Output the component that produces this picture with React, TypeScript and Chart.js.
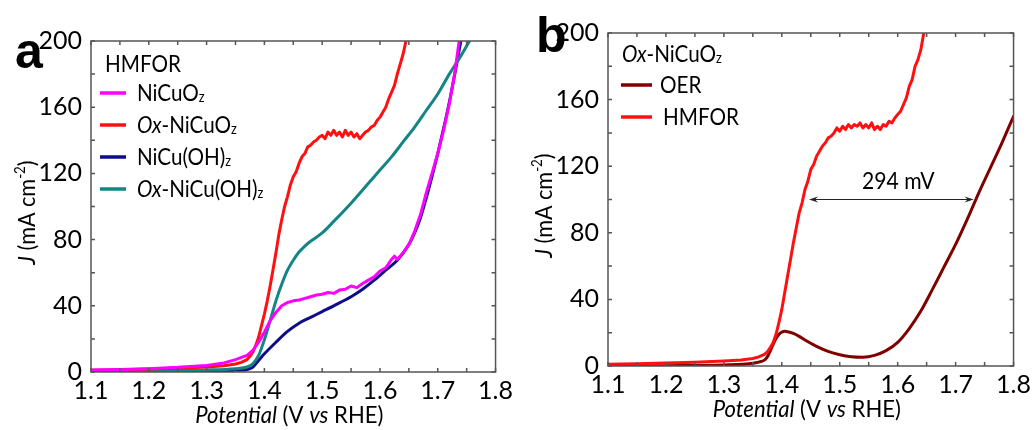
import React, { useEffect, useRef } from "react";
import { Chart, registerables } from "chart.js";
Chart.register(...registerables);

// ---------- Data (panel a: HMFOR) ----------
const V_A_MAG = [1.10,1.15,1.20,1.25,1.30,1.33,1.35,1.37,1.38,1.39,1.40,1.41,1.42,1.43,1.44,1.45,1.46,1.47,1.48,1.49,1.50,1.51,1.52,1.53,1.54,1.55,1.56,1.57,1.58,1.59,1.60,1.61,1.62,1.625,1.63,1.64,1.65,1.66,1.67,1.68,1.69,1.70,1.71,1.72,1.73,1.737];
const J_A_MAG = [1.2,1.5,2,2.8,4,5.5,7.5,10,13,18,24,31,36,40,42,43,43.5,44.5,45.5,46.5,47,48,47.5,49.5,50,52,51,53.5,55.5,57.5,61,63,68,70,68,72,77,85,95,108,120,132,146,162,182,200];

const V_A_RED = [1.10,1.15,1.20,1.25,1.30,1.33,1.35,1.36,1.37,1.375,1.38,1.385,1.39,1.395,1.400,1.405,1.410,1.415,1.420,1.425,1.430,1.435,1.440,1.445,1.450,1.455,1.460,1.465,1.470,1.475,1.480,1.485,1.490,1.495,1.500,1.505,1.510,1.515,1.520,1.525,1.530,1.535,1.540,1.545,1.550,1.555,1.560,1.565,1.570,1.575,1.580,1.585,1.590,1.595,1.600,1.605,1.610,1.615,1.620,1.625,1.630,1.635,1.640,1.645];
const J_A_RED = [1,1.3,1.8,2.3,3,3.8,4.8,5.8,7.5,9.5,12,16,21,28,35,43,52,62,72,83,92,100,106,113,118,121,126,130,132,136,137,139,140,142,143,141,145,143,146,143,145,142,146,143,145,142,144,141,143,145,146,148,149,152,154,157,160,165,169,173,180,186,192,200];

const V_A_NAVY = [1.10,1.20,1.30,1.35,1.37,1.375,1.38,1.39,1.40,1.42,1.44,1.46,1.48,1.50,1.52,1.55,1.57,1.59,1.61,1.63,1.65,1.66,1.67,1.68,1.69,1.70,1.71,1.72,1.73,1.74];
const J_A_NAVY = [0.3,0.4,0.6,1,1.5,2,3,7,11,18,24.5,29.5,33,36.5,40,45.5,50,55.5,61.5,67.5,77,84,93,105,118,132,147,163,181,200];

const V_A_TEAL = [1.10,1.20,1.30,1.35,1.37,1.38,1.39,1.40,1.41,1.42,1.43,1.44,1.45,1.46,1.47,1.48,1.50,1.52,1.55,1.58,1.60,1.62,1.64,1.66,1.68,1.70,1.72,1.74,1.755];
const J_A_TEAL = [0.5,0.7,1.2,2,3,5,10,19.5,31,43,53,61.5,67.5,72.5,76,79,84,91,102,114,122,130,139,148,158,168,180,191,200];

// ---------- Data (panel b: Ox-NiCuOz) ----------
const V_B_OER = [1.10,1.20,1.30,1.33,1.35,1.36,1.37,1.375,1.38,1.385,1.39,1.395,1.40,1.405,1.41,1.42,1.43,1.44,1.46,1.48,1.50,1.52,1.54,1.56,1.58,1.60,1.62,1.64,1.66,1.68,1.70,1.72,1.74,1.76,1.78,1.80];
const J_B_OER = [0,0.2,0.6,1,1.6,2.3,3.5,5.5,9,13,16.5,19,20.3,20.8,20.6,19.6,17.8,15.6,11.8,8.8,6.8,5.6,5.3,6.4,9.2,14.2,22.5,33,46,59.5,73,88,104,119,134,150];

const V_B_HMF = [1.10,1.15,1.20,1.25,1.30,1.33,1.35,1.36,1.37,1.375,1.38,1.385,1.39,1.395,1.400,1.405,1.410,1.415,1.420,1.425,1.430,1.435,1.440,1.445,1.450,1.455,1.460,1.465,1.470,1.475,1.480,1.485,1.490,1.495,1.500,1.505,1.510,1.515,1.520,1.525,1.530,1.535,1.540,1.545,1.550,1.555,1.560,1.565,1.570,1.575,1.580,1.585,1.590,1.595,1.600,1.605,1.610,1.615,1.620,1.625,1.630,1.635,1.640,1.645];
const J_B_HMF = [1,1.3,1.8,2.3,3,3.6,4.5,5.5,7,8.5,11,14,19,26,34,44,54,64,74,83,92,98,106,111,118,121,126,129,132,134,137,138,140,143,141,144,142,145,143,145,144,146,143,145,143,146,142,144,142,145,144,147,146,149,151,153,157,161,168,172,180,184,190,200];

const X_TICKS = [1.1,1.2,1.3,1.4,1.5,1.6,1.7,1.8];
const Y_TICKS = [0,40,80,120,160,200];
const X_MINOR = [1.1,1.15,1.2,1.25,1.3,1.35,1.4,1.45,1.5,1.55,1.6,1.65,1.7,1.75,1.8];
const Y_MINOR = [0,20,40,60,80,100,120,140,160,180,200];

const ARROW_V = [1.447, 1.731];
const ARROW_J = 100;
const ARROW_LABEL = "294 mV";

const FONT = "Lato";
const AXIS_COLOR = "#555";

type Part = { t: string; it?: boolean; sub?: boolean; sup?: boolean };

function richWidth(ctx: CanvasRenderingContext2D, parts: Part[], size: number, sx: number) {
  let w = 0;
  for (const p of parts) {
    const s = p.sub || p.sup ? size * 0.62 : size;
    ctx.font = `${p.it ? "italic " : ""}${s}px ${FONT}`;
    w += ctx.measureText(p.t).width;
  }
  return w * sx;
}
function drawRich(ctx: CanvasRenderingContext2D, parts: Part[], x: number, y: number, size: number, sx: number) {
  ctx.save();
  ctx.translate(x, y);
  ctx.scale(sx, 1);
  let cx = 0;
  for (const p of parts) {
    const s = p.sub || p.sup ? size * 0.62 : size;
    ctx.font = `${p.it ? "italic " : ""}${s}px ${FONT}`;
    const dy = p.sub ? 1 : p.sup ? -size * 0.42 : 0;
    ctx.fillText(p.t, cx, dy);
    cx += ctx.measureText(p.t).width;
  }
  ctx.restore();
}

const Y_TITLE: Part[] = [{ t: "J", it: true }, { t: " (mA cm" }, { t: "-2", sup: true }, { t: ")" }];
const X_TITLE: Part[] = [{ t: "Potential", it: true }, { t: " (V " }, { t: "vs", it: true }, { t: " RHE)" }];

function zip(v: number[], j: number[]) {
  return v.map((x, i) => ({ x, y: j[i] }));
}

function makeDecor(letter: string, letterPos: [number, number], header: Part[], entries: { color: string; label: Part[] }[], legendCfg: any, arrow: boolean) {
  return {
    id: "decor" + letter,
    afterDatasetsDraw(chart: any) {
      const ctx: CanvasRenderingContext2D = chart.ctx;
      const { left, right, top, bottom } = chart.chartArea;
      const xs = chart.scales.x;
      const ys = chart.scales.y;
      ctx.save();
      // box
      ctx.strokeStyle = AXIS_COLOR;
      ctx.lineWidth = 1.5;
      ctx.strokeRect(left, top, right - left, bottom - top);
      // inward ticks
      ctx.beginPath();
      for (const v of X_MINOR) {
        const px = xs.getPixelForValue(v);
        ctx.moveTo(px, bottom); ctx.lineTo(px, bottom - 4);
        ctx.moveTo(px, top); ctx.lineTo(px, top + 4);
      }
      for (const v of Y_MINOR) {
        const py = ys.getPixelForValue(v);
        ctx.moveTo(left, py); ctx.lineTo(left + 4, py);
        ctx.moveTo(right, py); ctx.lineTo(right - 4, py);
      }
      ctx.stroke();

      ctx.fillStyle = "#000";
      ctx.textBaseline = "alphabetic";
      // axis titles
      const xw = richWidth(ctx, X_TITLE, 24, 0.92);
      drawRich(ctx, X_TITLE, (left + right) / 2 - 4 - xw / 2, bottom + 51, 24, 0.92);
      ctx.save();
      ctx.translate(left - 56, (top + bottom) / 2 + 6);
      ctx.rotate(-Math.PI / 2);
      const yw = richWidth(ctx, Y_TITLE, 24, 0.9);
      drawRich(ctx, Y_TITLE, -yw / 2, 0, 24, 0.9);
      ctx.restore();

      // panel letter
      ctx.font = "bold 50px 'Liberation Sans', Arial";
      ctx.fillStyle = "#000";
      ctx.fillText(letter, letterPos[0], letterPos[1]);

      // legend
      ctx.fillStyle = "#000";
      drawRich(ctx, header, legendCfg.hx, legendCfg.hy, 24, 0.86);
      entries.forEach((e, i) => {
        const y = legendCfg.y0 + i * legendCfg.dy;
        ctx.strokeStyle = e.color;
        ctx.lineWidth = 3.5;
        ctx.beginPath();
        ctx.moveTo(legendCfg.lx0, y);
        ctx.lineTo(legendCfg.lx1, y);
        ctx.stroke();
        ctx.fillStyle = "#000";
        drawRich(ctx, e.label, legendCfg.tx + (legendCfg.tdx ? legendCfg.tdx[i] : 0), y + 8, 24, 0.86);
      });

      if (arrow) {
        const x0 = xs.getPixelForValue(ARROW_V[0]);
        const x1 = xs.getPixelForValue(ARROW_V[1]);
        const ay = ys.getPixelForValue(ARROW_J);
        ctx.strokeStyle = "#222";
        ctx.fillStyle = "#222";
        ctx.lineWidth = 1;
        ctx.beginPath();
        ctx.moveTo(x0 + 2, ay); ctx.lineTo(x1 - 2, ay);
        ctx.stroke();
        ctx.beginPath();
        ctx.moveTo(x0, ay); ctx.lineTo(x0 + 9, ay - 3); ctx.lineTo(x0 + 6, ay); ctx.lineTo(x0 + 9, ay + 3); ctx.closePath();
        ctx.moveTo(x1, ay); ctx.lineTo(x1 - 9, ay - 3); ctx.lineTo(x1 - 6, ay); ctx.lineTo(x1 - 9, ay + 3); ctx.closePath();
        ctx.fill();
        ctx.fillStyle = "#000";
        const lp: Part[] = [{ t: ARROW_LABEL }];
        const lw = richWidth(ctx, lp, 24, 0.88);
        drawRich(ctx, lp, (x0 + x1) / 2 + 7 - lw / 2, ay - 11, 24, 0.88);
      }
      ctx.restore();
    },
  };
}

function makeConfig(datasets: any[], pad: any, xH: number, yW: number, plugin: any) {
  return {
    type: "line",
    data: { datasets },
    options: {
      animation: false,
      responsive: false,
      maintainAspectRatio: false,
      devicePixelRatio: 1,
      layout: { padding: pad },
      plugins: { legend: { display: false }, tooltip: { enabled: false } },
      elements: { point: { radius: 0 }, line: { tension: 0, borderCapStyle: "round", borderJoinStyle: "round" } },
      scales: {
        x: {
          type: "linear",
          min: 1.1,
          max: 1.8,
          afterBuildTicks: (s: any) => { s.ticks = X_TICKS.map((value) => ({ value })); },
          afterFit: (s: any) => { s.height = xH; },
          ticks: { color: "#000", font: { family: FONT, size: 25 }, padding: 4, maxRotation: 0, autoSkip: false, callback: (v: any) => Number(v).toFixed(1) },
          grid: { display: false, drawTicks: false },
          border: { display: false },
        },
        y: {
          type: "linear",
          min: 0,
          max: 200,
          afterBuildTicks: (s: any) => { s.ticks = Y_TICKS.map((value) => ({ value })); },
          afterFit: (s: any) => { s.width = yW; },
          ticks: { color: "#000", font: { family: FONT, size: 25 }, padding: 9, autoSkip: false },
          grid: { display: false, drawTicks: false },
          border: { display: false },
        },
      },
    },
    plugins: [plugin],
  };
}

export default function App() {
  const refA = useRef<HTMLCanvasElement>(null);
  const refB = useRef<HTMLCanvasElement>(null);
  useEffect(() => {
    const ds = (v: number[], j: number[], c: string, smooth: boolean) => ({
      data: zip(v, j), borderColor: c, borderWidth: 3, pointRadius: 0, fill: false,
      cubicInterpolationMode: smooth ? "monotone" : "default",
    });
    const legendA = { hx: 105, hy: 72, y0: 93, dy: 32, lx0: 100, lx1: 126, tx: 137 };
    const pluginA = makeDecor("a", [15, 68], [{ t: "HMFOR" }], [
      { color: "#ff00ff", label: [{ t: "NiCuO" }, { t: "z", sub: true }] },
      { color: "#ff1010", label: [{ t: "Ox", it: true }, { t: "-NiCuO" }, { t: "z", sub: true }] },
      { color: "#0d0d8a", label: [{ t: "NiCu(OH)" }, { t: "z", sub: true }] },
      { color: "#138585", label: [{ t: "Ox", it: true }, { t: "-NiCu(OH)" }, { t: "z", sub: true }] },
    ], legendA, false);
    const cfgA: any = makeConfig([
      ds(V_A_MAG, J_A_MAG, "#ff00ff", false),
      ds(V_A_RED, J_A_RED, "#ff1010", false),
      ds(V_A_TEAL, J_A_TEAL, "#138585", true),
      ds(V_A_NAVY, J_A_NAVY, "#0d0d8a", true),
    ], { left: 0, top: 41, right: 12, bottom: 0 }, 58, 91, pluginA);

    const legendB = { hx: 105, hy: 62, y0: 85, dy: 32, lx0: 104, lx1: 135, tx: 143, tdx: [0, 3] };
    const pluginB = makeDecor("b", [19, 52], [{ t: "Ox", it: true }, { t: "-NiCuO" }, { t: "z", sub: true }], [
      { color: "#800000", label: [{ t: "OER" }] },
      { color: "#ff1010", label: [{ t: "HMFOR" }] },
    ], legendB, true);
    const cfgB: any = makeConfig([
      ds(V_B_HMF, J_B_HMF, "#ff1010", false),
      ds(V_B_OER, J_B_OER, "#800000", true),
    ], { left: 0, top: 33, right: 20, bottom: 0 }, 64, 91, pluginB);

    const a = new Chart(refA.current as HTMLCanvasElement, cfgA);
    const b = new Chart(refB.current as HTMLCanvasElement, cfgB);
    return () => { a.destroy(); b.destroy(); };
  }, []);
  return (
    <div style={{ position: "absolute", left: 0, top: 0, width: 1035, height: 430, background: "#fff" }}>
      <canvas ref={refA} width={517} height={430} style={{ position: "absolute", left: 0, top: 0, width: 517, height: 430 }} />
      <canvas ref={refB} width={518} height={430} style={{ position: "absolute", left: 517, top: 0, width: 518, height: 430 }} />
    </div>
  );
}
